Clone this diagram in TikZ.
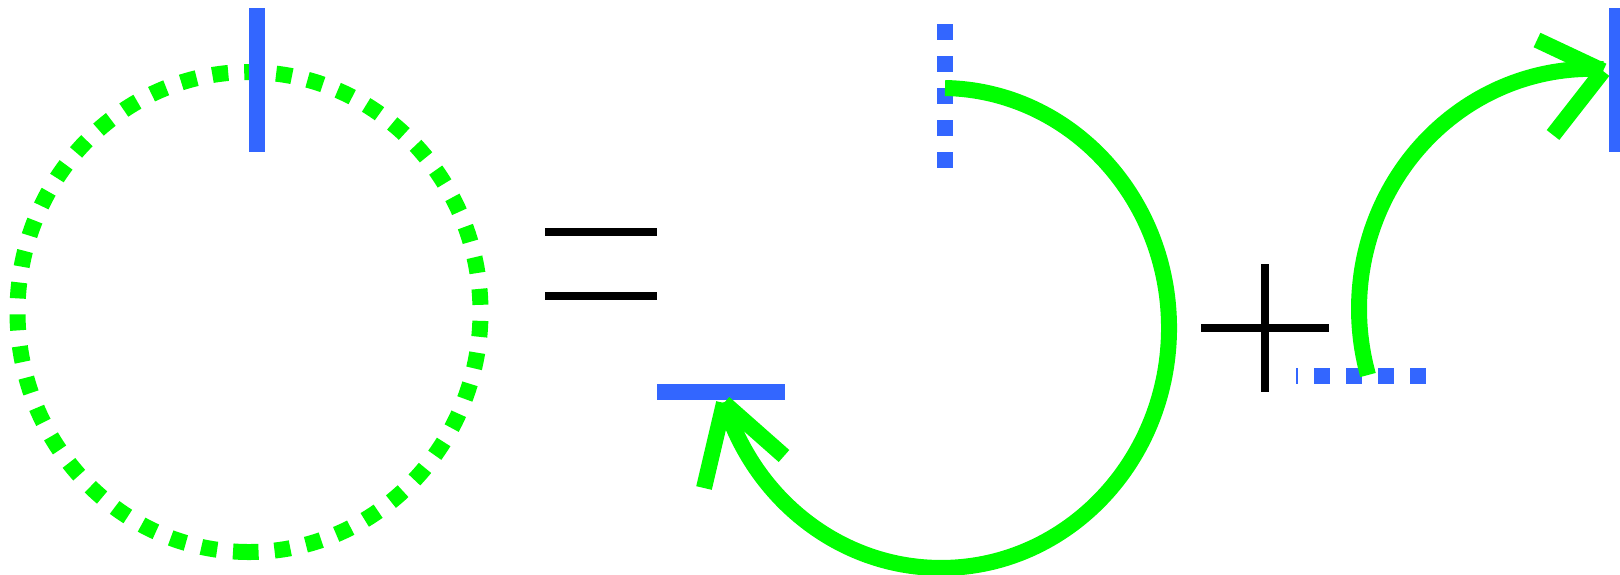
\documentclass[tikz,border=0pt]{standalone}
\usepackage{tikz}
\definecolor{cgreen}{HTML}{00FF00}
\definecolor{cblue}{HTML}{3366FF}

\begin{document}
\begin{tikzpicture}[x=0.5pt, y=-0.5pt,
    gline/.style={draw=cgreen, line width=8pt},
    bline/.style={draw=cblue, line width=8pt},
    kline/.style={draw=black, line width=4pt},
    dots/.style={dash pattern=on 8pt off 8pt}]
  \useasboundingbox (0,0) rectangle (1620,574);
  % Left: dotted loop with its cut
  \draw[gline, dots] (249,552) arc[start angle=90, end angle=450, x radius=231.5, y radius=240];
  \draw[bline] (257,8) -- (257,152);                       % cut
  % Equals sign
  \draw[kline] (545,232) -- (657,232);
  \draw[kline] (545,296) -- (657,296);
  % Middle: arc from the dotted cut round to the bar
  \draw[bline, dots] (945,24) -- (945,168);                % dotted cut
  \draw[bline] (657,392) -- (785,392);                     % bar
  \draw[gline] (945,88) arc[start angle=-89, end angle=162, x radius=228, y radius=240];
  \draw[gline] (724,403) -- (704,488);                     % arrow head
  \draw[gline] (724,403) -- (784,456);
  % Plus sign
  \draw[kline] (1201,328) -- (1329,328);
  \draw[kline] (1265,264) -- (1265,392);
  % Right: short arc up to the bar
  \draw[bline, dots, dash phase=7pt] (1296,376) -- (1426,376); % dotted cut
  \draw[bline] (1617,8) -- (1617,152);                     % bar
  \draw[gline] (1368,375) arc[start angle=164, end angle=273, x radius=232, y radius=240];
  \draw[gline] (1537,40) -- (1603,71);                     % arrow head
  \draw[gline] (1603,71) -- (1553,135);
\end{tikzpicture}
\end{document}
